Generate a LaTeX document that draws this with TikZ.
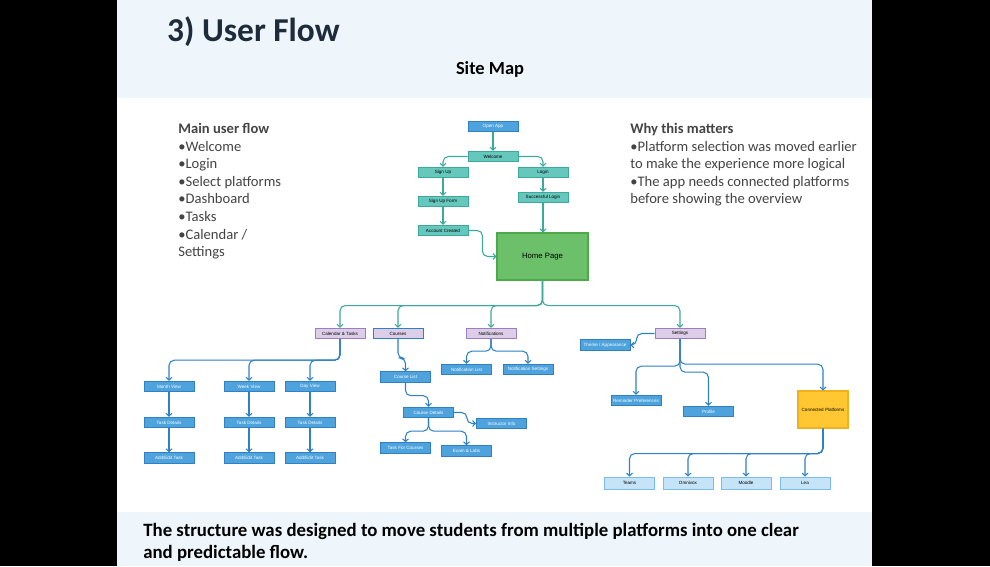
\documentclass[tikz,border=0pt]{standalone}
\usepackage{fontspec}
\setmainfont{Carlito}
\newfontfamily\boxfont{Liberation Sans}
\usetikzlibrary{arrows.meta}

\definecolor{bandblue}{HTML}{EEF6FC}
\definecolor{titleink}{HTML}{1E2B3A}
\definecolor{greyink}{HTML}{444444}
\definecolor{tealfill}{HTML}{66C7BD}
\definecolor{tealline}{HTML}{3BA99C}
\definecolor{bluefill}{HTML}{4EA3DD}
\definecolor{blueline}{HTML}{2F80C4}
\definecolor{purplefill}{HTML}{DCCDE8}
\definecolor{purpleline}{HTML}{9C7DBE}
\definecolor{greenfill}{HTML}{6CC06A}
\definecolor{greenline}{HTML}{4DAA4B}
\definecolor{yellowfill}{HTML}{FFC832}
\definecolor{yellowline}{HTML}{F2B01E}
\definecolor{lightfill}{HTML}{C6E4F7}
\definecolor{lightline}{HTML}{7BBCE8}

\tikzset{
  box/.style={draw, line width=0.5pt, minimum width=1cm, minimum height=0.21cm,
    inner sep=0pt, font=\boxfont\fontsize{2.6}{3}\selectfont},
  tealbox/.style={box, fill=tealfill, draw=tealline},
  bluebox/.style={box, fill=bluefill, draw=blueline, text=white},
  purplebox/.style={box, fill=purplefill, draw=purpleline},
  lightbox/.style={box, fill=lightfill, draw=lightline, minimum height=0.24cm},
  tealarrow/.style={draw=tealline, line width=0.6pt, rounded corners=3pt,
    -{Straight Barb[length=1.6pt,width=3.4pt]}},
  bluearrow/.style={draw=blueline, line width=0.6pt, rounded corners=3pt,
    -{Straight Barb[length=1.6pt,width=3.4pt]}},
  textblock/.style={anchor=north west, inner sep=0pt, align=left, text=greyink,
    font=\fontsize{8.3}{10}\selectfont}
}

\begin{document}
\begin{tikzpicture}[x=0.02cm,y=-0.02cm]
\useasboundingbox (0,0) rectangle (990,566);
% frame and bands
\fill[black] (0,0) rectangle (117,566);
\fill[black] (872,0) rectangle (990,566);
\fill[white] (117,0) rectangle (872,566);
\fill[bandblue] (117,0) rectangle (872,98);
\fill[bandblue] (117,512) rectangle (872,566);

\node[anchor=west, text=titleink] (title) at (161,32) {\fontsize{19}{19}\selectfont\bfseries 3) User Flow};
\node (sitemap) at (490,69) {\fontsize{10.5}{12}\selectfont\bfseries Site Map};

\node[textblock] (mainflow) at (178,123) {\textbf{Main user flow}\\ •Welcome\\ •Login\\ •Select platforms\\ •Dashboard\\ •Tasks\\ •Calendar /\\ Settings};
\node[textblock] (matters) at (630,123) {\textbf{Why this matters}\\ •Platform selection was moved earlier\\ to make the experience more logical\\ •The app needs connected platforms\\ before showing the overview};

\node[anchor=north west, inner sep=0pt, align=left, font=\fontsize{10.7}{12.5}\selectfont\bfseries] (summary) at (143,523)
  {The structure was designed to move students from multiple platforms into one clear\\ and predictable flow.};

% top part
\node[bluebox] (openapp) at (493,126.5) {Open App};
\node[tealbox] (welcome) at (493,156.5) {Welcome};
\node[tealbox] (signup) at (443,172.5) {Sign Up};
\node[tealbox] (login) at (543,172.5) {Login};
\node[tealbox] (signupform) at (443,201.5) {Sign Up Form};
\node[tealbox] (success) at (543,197.5) {Successful Login};
\node[tealbox] (created) at (443,230.5) {Account Created};
\node[draw=greenline, fill=greenfill, line width=0.6pt, minimum width=1.82cm, minimum height=0.94cm,
  font=\boxfont\fontsize{4.4}{5}\selectfont] (home) at (542.5,256.5) {Home Page};

\draw[tealarrow] (openapp) -- (welcome);
\draw[tealarrow] (welcome.west) -| (signup.north);
\draw[tealarrow] (welcome.east) -| (login.north);
\draw[tealarrow] (signup) -- (signupform);
\draw[tealarrow] (signupform) -- (created);
\draw[tealarrow] (login) -- (success);
\draw[tealarrow] (success) -- (success |- home.north);
\draw[tealarrow] (created.east) -- ++(14,0) |- (home.west);

% main sections
\node[purplebox] (calendar) at (340,333.5) {Calendar \& Tasks};
\node[purplebox, draw=blueline] (courses) at (398,333.5) {Courses};
\node[purplebox] (notif) at (491,333.5) {Notifications};
\node[purplebox] (settings) at (680,333.5) {Settings};

\draw[tealarrow] (home.south) -- ++(0,25) -| (calendar.north);
\draw[tealarrow] (home.south) -- ++(0,25) -| (courses.north);
\draw[tealarrow] (home.south) -- ++(0,25) -| (notif.north);
\draw[tealarrow] (home.south) -- ++(0,25) -| (settings.north);

% calendar
\node[bluebox] (month) at (169,386.5) {Month View};
\node[bluebox] (week) at (249,386.5) {Week View};
\node[bluebox] (day) at (310,386.5) {Day View};
\node[bluebox] (monthdet) at (169,422.5) {Task Details};
\node[bluebox] (weekdet) at (249,422.5) {Task Details};
\node[bluebox] (daydet) at (310,422.5) {Task Details};
\node[bluebox] (monthedit) at (169,458) {Add/Edit Task};
\node[bluebox] (weekedit) at (249,458) {Add/Edit Task};
\node[bluebox] (dayedit) at (310,458) {Add/Edit Task};

\draw[bluearrow] (calendar.south) -- ++(0,21) -| (month.north);
\draw[bluearrow] (calendar.south) -- ++(0,21) -| (week.north);
\draw[bluearrow] (calendar.south) -- ++(0,21) -| (day.north);
\draw[bluearrow] (month) -- (monthdet);
\draw[bluearrow] (week) -- (weekdet);
\draw[bluearrow] (day) -- (daydet);
\draw[bluearrow] (monthdet) -- (monthedit);
\draw[bluearrow] (weekdet) -- (weekedit);
\draw[bluearrow] (daydet) -- (dayedit);

% courses
\node[bluebox] (courselist) at (405.5,377) {Course List};
\node[bluebox] (coursedet) at (428.5,412.5) {Course Details};
\node[bluebox] (instructor) at (501.5,423.5) {Instructor Info};
\node[bluebox] (coursetasks) at (405.5,448) {Task For Courses};
\node[bluebox] (exams) at (466.5,451) {Exam \& Labs};

\draw[bluearrow] (courses.south) -- ++(0,19) -| (courselist.north);
\draw[bluearrow] (courselist.south) -- ++(0,13) -| (coursedet.north);
\draw[bluearrow] (coursedet.east) -- ++(13,0) |- (instructor.west);
\draw[bluearrow] (coursedet.south) -- ++(0,13) -| (coursetasks.north);
\draw[bluearrow] (coursedet.south) -- ++(0,13) -| (exams.north);

% notifications
\node[bluebox] (notiflist) at (466.5,369.5) {Notification List};
\node[bluebox] (notifset) at (528,369.5) {Notification Settings};

\draw[bluearrow] (notif.south) -- ++(0,12) -| (notiflist.north);
\draw[bluearrow] (notif.south) -- ++(0,12) -| (notifset.north);

% settings
\node[bluebox] (theme) at (605,345) {Theme / Appearance};
\node[bluebox] (reminder) at (636,400.5) {Reminder Preferences};
\node[bluebox] (profile) at (708.5,411.5) {Profile};
\node[draw=yellowline, fill=yellowfill, line width=0.6pt, minimum width=1cm, minimum height=0.74cm,
  inner sep=0pt, font=\boxfont\fontsize{2.6}{3}\selectfont] (connected) at (823,409.5) {Connected Platforms};

\draw[bluearrow] (settings.west) -- ++(-18,0) |- (theme.east);
\draw[bluearrow] (settings.south) -- ++(0,27) -| (reminder.north);
\draw[bluearrow] (settings.south) -- ++(0,33) -| (profile.north);
\draw[bluearrow] (settings.south) -- ++(0,25) -| (connected.north);

% platforms
\node[lightbox] (teams) at (629.5,483) {Teams};
\node[lightbox] (omnivox) at (688,483) {Omnivox};
\node[lightbox] (moodle) at (746,483) {Moodle};
\node[lightbox] (lea) at (805,483) {Lea};

\draw[bluearrow] (connected.south) -- ++(0,25) -| (teams.north);
\draw[bluearrow] (connected.south) -- ++(0,25) -| (omnivox.north);
\draw[bluearrow] (connected.south) -- ++(0,25) -| (moodle.north);
\draw[bluearrow] (connected.south) -- ++(0,25) -| (lea.north);
\end{tikzpicture}
\end{document}
